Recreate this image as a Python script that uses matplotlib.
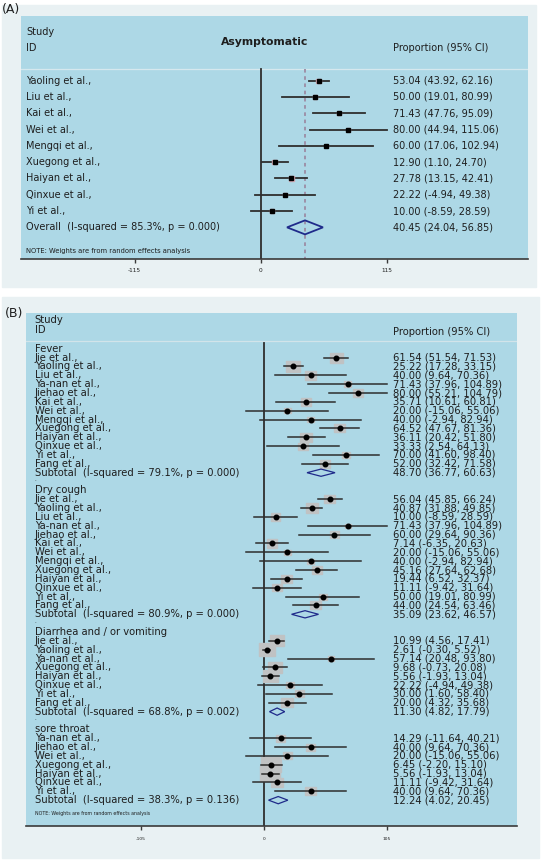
import numpy as np
import matplotlib.pyplot as plt
import matplotlib.transforms as mtransforms
from matplotlib.patches import Rectangle, Polygon

# ---- panel A data (Asymptomatic) ----
studies_a = ["Yaoling et al.,", "Liu et al.,", "Kai et al.,", "Wei et al.,", "Mengqi et al.,",
             "Xuegong et al.,", "Haiyan et al.,", "Qinxue et al.,", "Yi et al.,"]
es_a = [53.04, 50.00, 71.43, 80.00, 60.00, 12.90, 27.78, 22.22, 10.00]
lo_a = [43.92, 19.01, 47.76, 44.94, 17.06, 1.10, 13.15, -4.94, -8.59]
hi_a = [62.16, 80.99, 95.09, 115.06, 102.94, 24.70, 42.41, 49.38, 28.59]
wt_a = [2.6, 1.7, 1.7, 1.0, 1.0, 2.6, 2.6, 1.7, 1.7]
overall_a = [40.45, 24.04, 56.85]
isq_a, p_a = "85.3%", "0.000"
ticks_a = [-115, 0, 115]

# ---- panel B data (symptoms) ----
groups_b = ["Fever", "Dry cough", "Diarrhea and / or vomiting", "sore throat"]

fever_studies = ["Jie et al.,", "Yaoling et al.,", "Liu et al.,", "Ya-nan et al.,", "Jiehao et al.,",
                 "Kai et al.,", "Wei et al.,", "Mengqi et al.,", "Xuegong et al.,", "Haiyan et al.,",
                 "Qinxue et al.,", "Yi et al.,", "Fang et al.,"]
fever_es = [61.54, 25.22, 40.00, 71.43, 80.00, 35.71, 20.00, 40.00, 64.52, 36.11, 33.33, 70.00, 52.00]
fever_lo = [51.54, 17.28, 9.64, 37.96, 55.21, 10.61, -15.06, -2.94, 47.67, 20.42, 2.54, 41.60, 32.42]
fever_hi = [71.53, 33.15, 70.36, 104.89, 104.79, 60.81, 55.06, 82.94, 81.36, 51.80, 64.13, 98.40, 71.58]
fever_wt = [17.6, 20.4, 12.6, 5.1, 11.3, 11.3, 5.1, 5.1, 11.3, 13.8, 9.2, 7.9, 11.3]
fever_sub = [48.70, 36.77, 60.63, "79.1%", "0.000"]

cough_studies = fever_studies
cough_es = [56.04, 40.87, 10.00, 71.43, 60.00, 7.14, 20.00, 40.00, 45.16, 19.44, 11.11, 50.00, 44.00]
cough_lo = [45.85, 31.88, -8.59, 37.96, 29.64, -6.35, -15.06, -2.94, 27.64, 6.52, -9.42, 19.01, 24.54]
cough_hi = [66.24, 49.85, 28.59, 104.89, 90.36, 20.63, 55.06, 82.94, 62.68, 32.37, 31.64, 80.99, 63.46]
cough_wt = [11.3, 15.0, 9.8, 3.7, 9.2, 11.3, 5.1, 5.1, 9.2, 11.3, 9.2, 6.7, 11.3]
cough_sub = [35.09, 23.62, 46.57, "80.9%", "0.000"]

diar_studies = ["Jie et al.,", "Yaoling et al.,", "Ya-nan et al.,", "Xuegong et al.,", "Haiyan et al.,",
                "Qinxue et al.,", "Yi et al.,", "Fang et al.,"]
diar_es = [10.99, 2.61, 57.14, 9.68, 5.56, 22.22, 30.00, 20.00]
diar_lo = [4.56, -0.30, 20.48, -0.73, -1.93, -4.94, 1.60, 4.32]
diar_hi = [17.41, 5.52, 93.80, 20.08, 13.04, 49.38, 58.40, 35.68]
diar_wt = [20.4, 29.0, 3.7, 21.3, 23.4, 6.7, 8.4, 15.0]
diar_sub = [11.30, 4.82, 17.79, "68.8%", "0.002"]

throat_studies = ["Ya-nan et al.,", "Jiehao et al.,", "Wei et al.,", "Xuegong et al.,", "Haiyan et al.,",
                  "Qinxue et al.,", "Yi et al.,"]
throat_es = [14.29, 40.00, 20.00, 6.45, 5.56, 11.11, 40.00]
throat_lo = [-11.64, 9.64, -15.06, -2.20, -1.93, -9.42, 9.64]
throat_hi = [40.21, 70.36, 55.06, 15.10, 13.04, 31.64, 70.36]
throat_wt = [9.2, 8.4, 8.4, 41.6, 41.6, 15.0, 11.9]
throat_sub = [12.24, 4.02, 20.45, "38.3%", "0.136"]

ticks_b = [-105, 0, 105]

# ---- style ----
W, H = 546, 861
outer_bg = '#e9f1f3'
inner_bg = '#add8e6'
ink = '#1e1e1e'
line_c = '#2e2e2e'
navy = '#1f2a8a'

fig = plt.figure(figsize=(W / 100, H / 100), dpi=100)
fig.patch.set_facecolor('white')


def px_box(x0, y0, x1, y1):
    return [x0 / W, 1 - y1 / H, (x1 - x0) / W, (y1 - y0) / H]


# outer light panels
fig.add_artist(Rectangle((2 / W, 1 - 287 / H), 534 / W, 282 / H, transform=fig.transFigure,
                         color=outer_bg, zorder=-5))
fig.add_artist(Rectangle((2 / W, 1 - 858 / H), 537 / W, 561 / H, transform=fig.transFigure,
                         color=outer_bg, zorder=-5))


def setup_axis(ax, ticks, labsize, pad):
    ax.set_facecolor(inner_bg)
    for s in ['top', 'left', 'right']:
        ax.spines[s].set_visible(False)
    ax.spines['bottom'].set_color('#3a3a3a')
    ax.spines['bottom'].set_linewidth(1.2)
    ax.set_yticks([])
    ax.set_xticks(ticks)
    ax.set_xticklabels([str(t) for t in ticks])
    ax.tick_params(axis='x', length=3, width=1.0, colors='#3a3a3a', labelsize=labsize, pad=pad,
                   labelcolor=ink)


# =================== panel A ===================
axA = fig.add_axes(px_box(20.9, 16, 528.4, 259.3))
axA.set_xlim(-218.8, 244.3)
yA_bot, yA_top = 10.96, -3.97
axA.set_ylim(yA_bot, yA_top)
setup_axis(axA, ticks_a, 4.2, 3)
trA = mtransforms.blended_transform_factory(axA.transAxes, axA.transData)
sxA = 1.096   # px per unit
ryA = 16.29   # px per row

axA.text(0.0102, -2.97, "Study", fontsize=7, color=ink, va='center', transform=trA)
axA.text(0.0102, -1.99, "ID", fontsize=7, color=ink, va='center', transform=trA)
axA.text(0.481, -2.39, "Asymptomatic", fontsize=7.8, fontweight='bold', color=ink,
         ha='center', va='center', transform=trA)
axA.text(0.734, -1.99, "Proportion (95% CI)", fontsize=7, color=ink, va='center', transform=trA)
axA.axhline(-0.72, color='#d6e8ee', lw=0.9)

axA.plot([0, 0], [-0.72, yA_bot], color=line_c, lw=1.3, zorder=2)
axA.plot([overall_a[0]] * 2, [-0.72, yA_bot], color='#9c8ca4', lw=1.3, ls=(0, (2, 2)), zorder=2)

for i, name in enumerate(studies_a):
    axA.plot([lo_a[i], hi_a[i]], [i, i], color=line_c, lw=1.3, zorder=3)
    side = 3.1 * np.sqrt(wt_a[i])
    w, h = side / sxA, side / 1.2 / ryA
    axA.add_patch(Rectangle((es_a[i] - w / 2, i - h / 2), w, h, color='#d3a9b3', zorder=3))
    axA.plot(es_a[i], i, marker='s', ms=2.6, color='black', zorder=4)
    axA.text(0.0102, i, name, fontsize=7, color=ink, va='center', transform=trA)
    axA.text(0.734, i, "%.2f (%.2f, %.2f)" % (es_a[i], lo_a[i], hi_a[i]), fontsize=7, color=ink,
             va='center', transform=trA)

yo = len(studies_a)
es, lo, hi = overall_a
axA.add_patch(Polygon([(lo, yo), (es, yo - 0.43), (hi, yo), (es, yo + 0.43)], closed=True,
                      fill=False, edgecolor=navy, lw=1.3, zorder=4))
axA.text(0.0102, yo, "Overall  (I-squared = %s, p = %s)" % (isq_a, p_a), fontsize=7, color=ink,
         va='center', transform=trA)
axA.text(0.734, yo, "%.2f (%.2f, %.2f)" % (es, lo, hi), fontsize=7, color=ink, va='center',
         transform=trA)
axA.text(0.0102, 10.45, "NOTE: Weights are from random effects analysis", fontsize=4.9, color=ink,
         va='center', transform=trA)

# =================== panel B ===================
axB = fig.add_axes(px_box(26.1, 313.3, 517.2, 826))
axB.set_xlim(-202.5, 215.8)
yB_bot, yB_top = 53.92, -4.01
axB.set_ylim(yB_bot, yB_top)
setup_axis(axB, ticks_b, 3.2, 5)
trB = mtransforms.blended_transform_factory(axB.transAxes, axB.transData)
sxB = 1.174
ryB = 8.85
fsB = 7.2
xl, xr = 0.0177, 0.748

axB.text(xl, -3.3, "Study", fontsize=fsB, color=ink, va='center', transform=trB)
axB.text(xl, -2.15, "ID", fontsize=fsB, color=ink, va='center', transform=trB)
axB.text(xr, -1.93, "Proportion (95% CI)", fontsize=fsB, color=ink, va='center', transform=trB)
axB.axhline(-0.92, color='#d2e4ea', lw=0.9)
axB.plot([0, 0], [-0.62, yB_bot], color=line_c, lw=1.3, zorder=2)

group_data = [
    (fever_studies, fever_es, fever_lo, fever_hi, fever_wt, fever_sub),
    (cough_studies, cough_es, cough_lo, cough_hi, cough_wt, cough_sub),
    (diar_studies, diar_es, diar_lo, diar_hi, diar_wt, diar_sub),
    (throat_studies, throat_es, throat_lo, throat_hi, throat_wt, throat_sub),
]

y = 0
for g, (names, e_, l_, h_, wt, sub) in enumerate(group_data):
    axB.text(xl, y, groups_b[g], fontsize=fsB, color=ink, va='center', transform=trB)
    y += 1
    for i, name in enumerate(names):
        axB.plot([l_[i], h_[i]], [y, y], color=line_c, lw=1.1, zorder=3)
        side = 3.1 * np.sqrt(wt[i])
        w, h = side / sxB, side / 1.3 / ryB
        axB.add_patch(Rectangle((e_[i] - w / 2, y - h / 2), w, h, color='#c0c2c3', zorder=2.5))
        axB.plot(e_[i], y, marker='o', ms=3.3, color='black', zorder=4)
        axB.text(xl, y, name, fontsize=fsB, color=ink, va='center', transform=trB)
        axB.text(xr, y, "%.2f (%.2f, %.2f)" % (e_[i], l_[i], h_[i]), fontsize=fsB, color=ink,
                 va='center', transform=trB)
        y += 1
    es, lo, hi, isq, p = sub
    axB.add_patch(Polygon([(lo, y), (es, y - 0.41), (hi, y), (es, y + 0.41)], closed=True,
                          fill=False, edgecolor=navy, lw=0.9, zorder=4))
    axB.text(xl, y, "Subtotal  (I-squared = %s, p = %s)" % (isq, p), fontsize=fsB, color=ink,
             va='center', transform=trB)
    axB.text(xr, y, "%.2f (%.2f, %.2f)" % (es, lo, hi), fontsize=fsB, color=ink, va='center',
             transform=trB)
    y += 1
    if g < len(group_data) - 1:
        axB.text(xl, y - 0.2, ".", fontsize=4, color=ink, va='center', transform=trB)
        y += 1

axB.text(xl, y + 0.5, "NOTE: Weights are from random effects analysis", fontsize=3.4, color=ink,
         va='center', transform=trB)

fig.text(2 / W, 1 - 10 / H, "(A)", fontsize=9, color=ink, va='center')
fig.text(5 / W, 1 - 314 / H, "(B)", fontsize=9, color=ink, va='center')

fig.savefig("out.png", dpi=100)
